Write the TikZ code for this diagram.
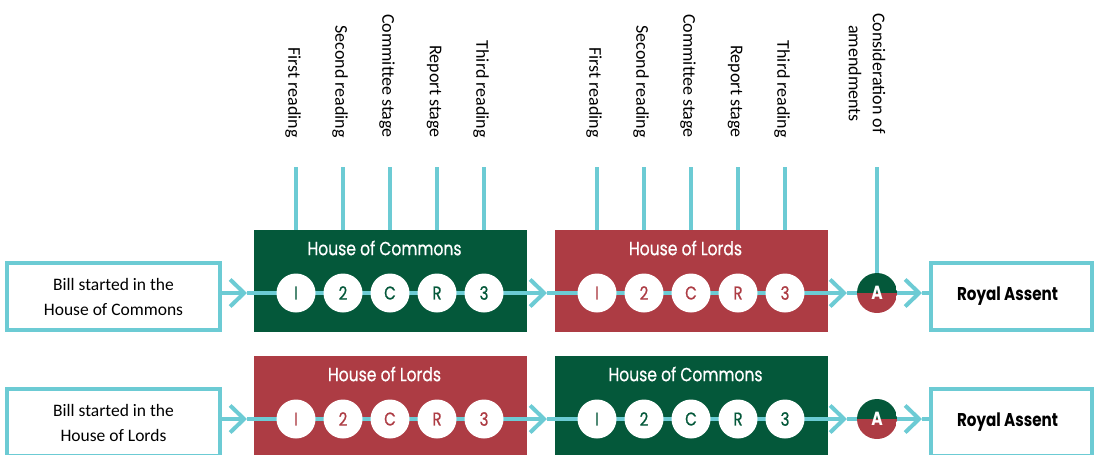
\documentclass[tikz,border=0pt]{standalone}
\usepackage{fontspec}
\setmainfont{Carlito}
\newfontfamily\geo[FakeStretch=0.82, FakeBold=0.6]{Poppins}
\newfontfamily\geob[FakeStretch=0.82]{Poppins}
\usetikzlibrary{arrows.meta,calc}
\definecolor{hgreen}{HTML}{04583A}
\definecolor{hred}{HTML}{AD3C44}
\definecolor{flowc}{HTML}{6CCBD4}
\pgfdeclarelayer{bg}
\pgfdeclarelayer{mid}
\pgfsetlayers{bg,mid,main}
\tikzset{
  flow/.style={draw=flowc, line width=4pt},
  chev/.style={-{Straight Barb[length=14pt,width=27pt]}},
  billbox/.style={draw=flowc, line width=4pt, fill=white, minimum width=213pt, minimum height=67pt,
    align=center, inner sep=0pt, font=\fontsize{17.5}{25}\selectfont},
  rabox/.style={draw=flowc, line width=4pt, fill=white, minimum width=161pt, minimum height=67pt,
    inner sep=0pt, font=\geob\bfseries\fontsize{18.5}{18}\selectfont},
  house/.style={minimum width=273pt, minimum height=102pt, inner sep=0pt},
  housetitle/.style={text=white, inner sep=0pt, font=\geo\fontsize{19}{20}\selectfont},
  stage/.style={circle, fill=white, minimum size=39pt, inner sep=0pt, font=\geo\fontsize{18.5}{18}\selectfont},
  lab/.style={rotate=-90, anchor=east, align=center, inner sep=0pt, font=\fontsize{18}{24}\selectfont},
  amend/.style={circle, minimum size=40pt, inner sep=0pt, text=white,
    font=\geob\bfseries\fontsize{19}{18}\selectfont,
    path picture={\fill[hgreen] (path picture bounding box.north west) rectangle (path picture bounding box.east);
                  \fill[hred] (path picture bounding box.west) rectangle (path picture bounding box.south east);}},
}
\begin{document}
\begin{tikzpicture}[x=1pt, y=-1pt]
\useasboundingbox (0,0) rectangle (1098,455);
\coordinate (tk) at (0,167);

\foreach \r/\dy/\ca/\cb/\ta/\tb/\bill in {
  1/0/hgreen/hred/House of Commons/House of Lords/{Bill started in the\\House of Commons},
  2/126/hred/hgreen/House of Lords/House of Commons/{Bill started in the\\House of Lords}}{
  \begin{pgfonlayer}{bg}
    \node[house, fill=\ca] (ha\r) at (390.5, {281+\dy}) {};
    \node[house, fill=\cb] (hb\r) at (691.5, {281+\dy}) {};
  \end{pgfonlayer}
  \node[housetitle] (tta\r) at (384.5, {248+\dy}) {\ta};
  \node[housetitle] (ttb\r) at (685.5, {248+\dy}) {\tb};
  \node[billbox] (bill\r) at (113.5, {296.5+\dy}) {\bill};
  \node[rabox] (ra\r) at (1011.5, {296.5+\dy}) {Royal Assent\hspace*{8pt}};
  \foreach \i/\t in {1/I,2/2,3/C,4/R,5/3}{
    \node[stage, text=\ca] (a\r\i) at ({296+47*(\i-1)}, {293+\dy}) {\t};
    \node[stage, text=\cb] (b\r\i) at ({597+47*(\i-1)}, {293+\dy}) {\t};
  }
  \node[amend] (am\r) at (877, {293+\dy}) {A};
  \coordinate (t1\r) at (247, {293+\dy});
  \coordinate (t2\r) at (547, {293+\dy});
  \coordinate (t3\r) at (847, {293+\dy});
  \coordinate (t4\r) at (922, {293+\dy});
  \begin{pgfonlayer}{mid}
    \draw[flow, chev] (bill\r.east |- a\r1) -- (t1\r);
    \draw[flow] (t1\r) -- (a\r5.center);
    \draw[flow, chev] (a\r5.center) -- (t2\r);
    \draw[flow] (t2\r) -- (b\r5.center);
    \draw[flow, chev] (b\r5.center) -- (t3\r);
    \draw[flow] (t3\r) -- (am\r.center);
    \draw[flow, chev] (am\r.center) -- (t4\r);
    \draw[flow] (t4\r) -- (ra\r.west |- am\r);
  \end{pgfonlayer}
}

\foreach \i/\l in {1/First reading, 2/Second reading, 3/Committee stage, 4/Report stage, 5/Third reading}{
  \node[lab] (la\i) at ({293+47*(\i-1)}, 138) {\l};
  \node[lab] (lb\i) at ({594+47*(\i-1)}, 138) {\l};
  \begin{pgfonlayer}{mid}
    \draw[flow] (a1\i |- tk) -- (a1\i |- ha1.north);
    \draw[flow] (b1\i |- tk) -- (b1\i |- hb1.north);
  \end{pgfonlayer}
}
\node[lab] (lc) at (867, 134) {Consideration of\\amendments};
\begin{pgfonlayer}{mid}
  \draw[flow] (am1 |- tk) -- (am1.north);
\end{pgfonlayer}
\end{tikzpicture}
\end{document}
